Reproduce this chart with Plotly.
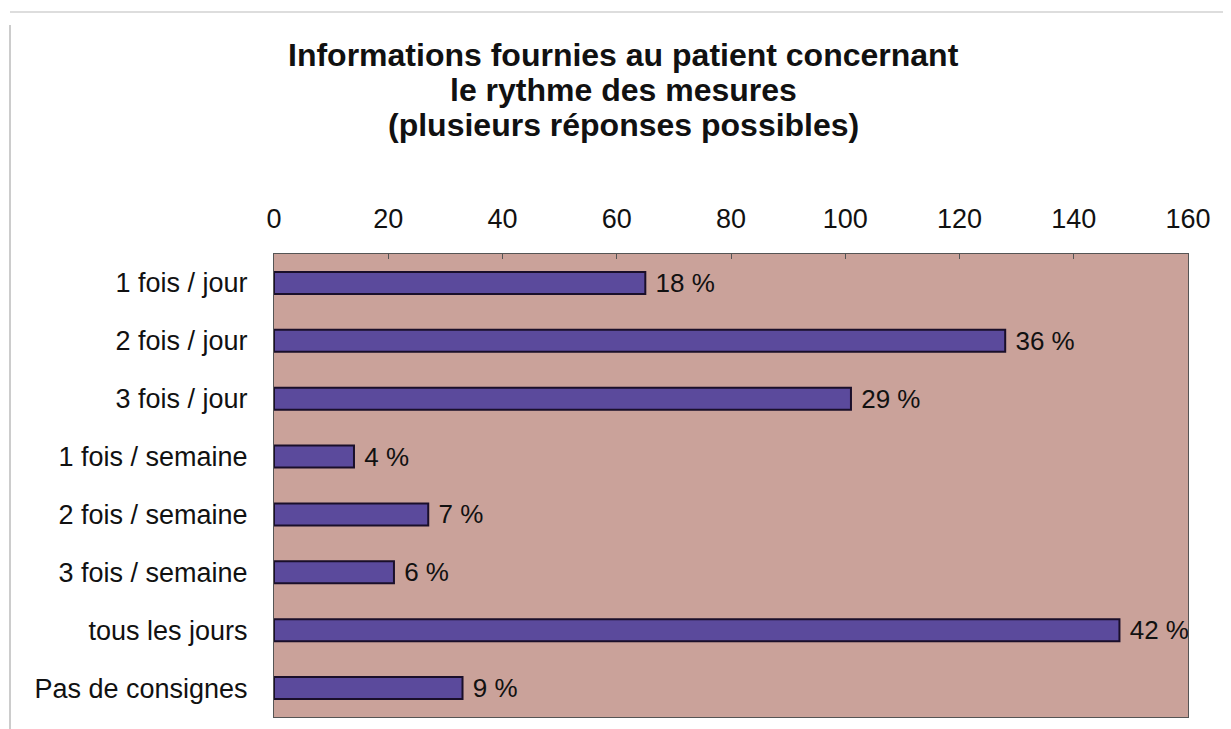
import plotly.graph_objects as go

categories = ["1 fois / jour", "2 fois / jour", "3 fois / jour", "1 fois / semaine",
              "2 fois / semaine", "3 fois / semaine", "tous les jours", "Pas de consignes"]
values = [65, 128, 101, 14, 27, 21, 148, 33]
percent_labels = ["18 %", "36 %", "29 %", "4 %", "7 %", "6 %", "42 %", "9 %"]
x_ticks = [0, 20, 40, 60, 80, 100, 120, 140, 160]
title_lines = ["Informations fournies au patient concernant",
               "le rythme des mesures",
               "(plusieurs réponses possibles)"]

W, H = 1231, 729
# page body has an 8px margin, so offsets are relative to that
ml, mr, mt, mb = 266, 51, 246, 20
FONT = "Liberation Sans, Arial, Helvetica"

fig = go.Figure(go.Bar(
    y=categories, x=values, orientation="h",
    text=[" " + t for t in percent_labels], textposition="outside", cliponaxis=False,
    constraintext="none",
    textfont=dict(family=FONT, size=26, color="#111"),
    marker=dict(color="#5b4a9c", line=dict(color="#1a0f2a", width=2)),
    width=0.38,
))

fig.update_layout(
    width=W, height=H,
    margin=dict(l=ml, r=mr, t=mt, b=mb, autoexpand=False),
    paper_bgcolor="white",
    plot_bgcolor="#caa29a",
    showlegend=False,
    font=dict(family=FONT, color="#111"),
    xaxis=dict(
        side="top", range=[0, 160], tickvals=x_ticks, ticktext=[str(t) for t in x_ticks],
        tickfont=dict(size=27), showgrid=False, zeroline=False, automargin=False,
        showline=True, linecolor="#555", linewidth=1, mirror=True,
        ticks="inside", ticklen=5, tickcolor="#555", ticklabelstandoff=14,
    ),
    yaxis=dict(
        autorange="reversed", tickfont=dict(size=27), showgrid=False, automargin=False,
        showline=True, linecolor="#555", linewidth=1, mirror=True,
        ticks="outside", ticklen=0, ticklabelstandoff=20,
    ),
    bargap=0.62,
)

pw, ph = W - ml - mr, H - mt - mb

# title, one line per annotation so the line spacing matches
for i, line in enumerate(title_lines):
    ypix = 47 + 35 * i  # centre of the line, from top of figure
    fig.add_annotation(
        text=f"<b>{line}</b>", showarrow=False,
        xref="paper", yref="paper",
        x=(615.5 - ml) / pw, y=1 + (mt - ypix) / ph,
        xanchor="center", yanchor="middle",
        font=dict(family=FONT, size=32, color="#111"),
    )

# light frame around the chart
xl = -(ml - 2) / pw
xr = 1 + (mr + 5) / pw
yb = -(mb - 6) / ph
yt = 1 + (mt - 4) / ph
fig.add_shape(type="line", xref="paper", yref="paper", x0=xl, x1=xl,
              y0=yb, y1=1 + (mt - 17) / ph, line=dict(color="#999", width=1))
fig.add_shape(type="line", xref="paper", yref="paper", x0=xl, x1=xr,
              y0=yb, y1=yb, line=dict(color="#aaa", width=1))
fig.add_shape(type="line", xref="paper", yref="paper", x0=xl, x1=xr,
              y0=yt, y1=yt, line=dict(color="#bbb", width=1))

fig.write_html("out.html")
